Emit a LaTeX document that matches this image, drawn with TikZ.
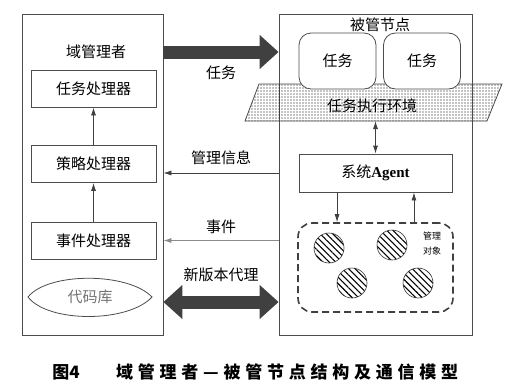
\documentclass[tikz,border=0pt]{standalone}
\usepackage{fontspec}
\setmainfont{Noto Sans CJK SC}
\newfontfamily\agentfont{Liberation Serif}
\usetikzlibrary{calc,arrows.meta,patterns.meta}
\tikzset{bigtip/.tip={Triangle[length=19pt,width=33pt]}}

\begin{document}
\begin{tikzpicture}[
  x=1pt, y=-1pt,
  font=\fontsize{15}{15}\selectfont,
  every node/.style={inner sep=0pt},
  >={Latex[length=8pt,width=5pt]},
  frame/.style={draw=black!70, line width=0.8pt},
  unit/.style={frame, minimum width=125pt, minimum height=37pt},
  task/.style={frame, fill=white, rounded corners=12pt, minimum width=77pt, minimum height=56pt},
  obj/.style={circle, draw=black!80, line width=0.6pt, minimum size=30pt,
    pattern={Lines[angle=-45,distance=4.5pt,line width=1.1pt]}},
  thin/.style={draw=black!75, line width=0.8pt, ->},
  fat/.style={draw=black!75, line width=13pt, -bigtip}
]
\useasboundingbox (0,0) rectangle (506,391);

\node[frame, minimum width=141pt, minimum height=321pt] (manager) at (92.5,174.5) {};
\node[frame, minimum width=193pt, minimum height=321pt] (managed) at (375.5,174.5) {};
\node (mtitle) at (96,52) {域管理者};
\node (ntitle) at (380,25) {被管节点};

\node[unit] (taskproc) at (93.5,88.5) {任务处理器};
\node[unit] (policyproc) at (93.5,164) {策略处理器};
\node[unit] (eventproc) at (93.5,240.5) {事件处理器};
\draw[thin] (eventproc) -- (policyproc);
\draw[thin] (policyproc) -- (taskproc);
\draw[frame] (28,297) .. controls (48,272) and (128,272) .. (152,297)
  .. controls (128,323) and (48,323) .. cycle;
\node[text=black!55] (codelib) at (90,297) {代码库};

\draw[frame, pattern={Dots[distance=3pt,radius=0.7pt]}]
  (245,121) -- (259,84) -- (502,84) -- (487,121) -- cycle;
\node (env) at (372,106) {任务执行环境};
\coordinate (envbase) at (375.5,121);
\node[task] (taskA) at (337.5,61) {任务};
\node[task] (taskB) at (422,61) {任务};

\node[frame, minimum width=153pt, minimum height=38pt] (agent) at (375.5,173) {系统{\agentfont\bfseries Agent}};
\draw[thin, <->] (envbase) -- (agent);

\node[draw=black!75, line width=1.6pt, dash pattern=on 7pt off 4pt, rounded corners=14pt,
  minimum width=155pt, minimum height=89pt] (objects) at (375.5,267.5) {};
\node[obj] (o1) at (329,248) {};
\node[obj] (o2) at (392,245) {};
\node[obj] (o3) at (352,283) {};
\node[obj] (o4) at (418,283) {};
\node[font=\fontsize{9}{15}\selectfont, align=center] (objlabel) at (432,244) {管理\\对象};
\coordinate (down) at ($(agent.south west)!0.25!(agent.south east)$);
\coordinate (up) at ($(agent.south west)!0.75!(agent.south east)$);
\draw[thin] (down) -- (down |- objects.north);
\draw[thin] (up |- objects.north) -- (up);

\draw[fat] (manager.east |- mtitle) -- (managed.west |- mtitle)
  node[midway, yshift=-21pt] {任务};
\draw[thin] (managed.west |- agent) -- (manager.east |- agent)
  node[midway, yshift=15pt] {管理信息};
\draw[thin, draw=black!45] (managed.west |- eventproc) -- (manager.east |- eventproc)
  node[midway, yshift=14pt] {事件};
\draw[fat, bigtip-bigtip] ($(manager.east |- codelib)+(0,5)$) -- ($(managed.west |- codelib)+(0,5)$)
  node[midway, yshift=27pt] {新版本代理};

\node[font=\fontsize{17}{17}\selectfont\bfseries] (fignum) at (66,372) {图4};
\node[font=\fontsize{17}{17}\selectfont\bfseries, anchor=west] (caption) at (116,372)
  {\addfontfeature{LetterSpace=28}域管理者—被管节点结构及通信模型};
\end{tikzpicture}
\end{document}
